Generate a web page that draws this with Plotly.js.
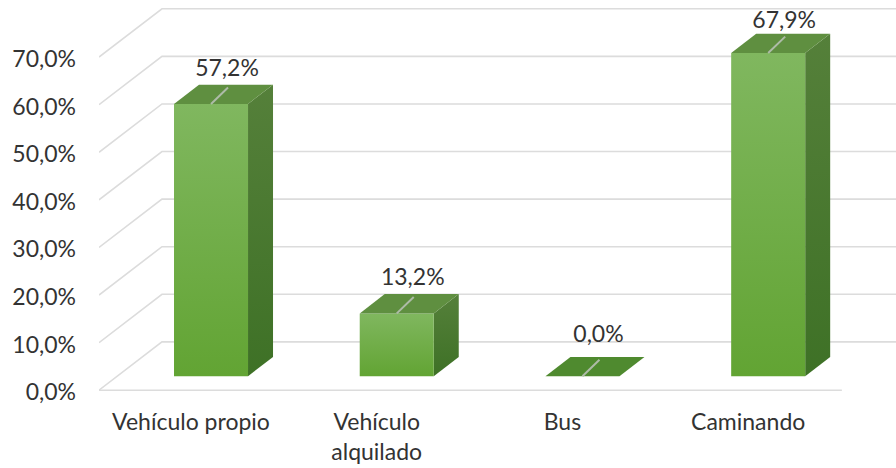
<!DOCTYPE html>
<html><head><meta charset="utf-8">
<script src="https://cdn.plot.ly/plotly-3.0.1.min.js"></script>
<style>html,body{margin:0;padding:0;background:#fff}#c{width:896px;height:468px}</style>
</head><body><div id="c"></div>
<script>
var categories = ["Vehículo propio", "Vehículo<br>alquilado", "Bus", "Caminando"];
var values = [57.2, 13.2, 0.0, 67.9];
var yTicks = [0, 10, 20, 30, 40, 50, 60, 70];
var yTickLabels = ["0,0%", "10,0%", "20,0%", "30,0%", "40,0%", "50,0%", "60,0%", "70,0%"];
var labelDy = [10.1, 10.1, 11.35, 9.5];

// Oblique-projection constants, in axis units
var wallDx = 0.339, wallDy = 10.16;
var floorLen = 4.0, barLeft = -0.0915, barW = 0.3985, depthDx = 0.1346, depthDy = 4.06, baseY = 2.95;
var labelDx = 0.194, tickNudge = 0.4;
var xMin = -0.4954, xMax = 3.796;
var tickFont = {family: "Lato, 'Open Sans', sans-serif", size: 23, color: "#333333"};

function poly(xs, ys, color, grad) {
  var t = {type: "scatter", mode: "lines", x: xs, y: ys, fill: "toself", line: {width: 0}, hoverinfo: "skip", showlegend: false};
  if (grad) t.fillgradient = {type: "vertical", colorscale: [[0, grad[0]], [1, grad[1]]]};
  else t.fillcolor = color;
  return t;
}
var traces = [];
// walls
yTicks.forEach(function (v) {
  traces.push({type: "scatter", mode: "lines", x: [xMin, xMin + wallDx, xMax + 1], y: [v, v + wallDy, v + wallDy],
    line: {color: "#dcdcdc", width: 1.6}, hoverinfo: "skip", showlegend: false});
});
traces.push({type: "scatter", mode: "lines", x: [xMin, xMin + floorLen], y: [0, 0],
  line: {color: "#dcdcdc", width: 1.6}, hoverinfo: "skip", showlegend: false});
// bars
values.forEach(function (v, i) {
  var l = i + barLeft, r = l + barW, b = baseY, t = baseY + v;
  if (v > 0) {
    traces.push(poly([r, r + depthDx, r + depthDx, r, r], [b, b + depthDy, t + depthDy, t, b], null, ["#3e7126", "#55803a"]));
    traces.push(poly([l, r, r, l, l], [b, b, t, t, b], null, ["#62a433", "#80b75f"]));
  }
  traces.push(poly([l, r, r + depthDx, l + depthDx, l], [t, t, t + depthDy, t + depthDy, t], v > 0 ? "#5f8f40" : "#4f8a2f"));
  // leader line
  traces.push({type: "scatter", mode: "lines", x: [l + barW / 2, l + barW / 2 + depthDx * 0.68], y: [t, t + depthDy * 0.85],
    line: {color: "#aebba8", width: 2}, hoverinfo: "skip", showlegend: false});
});
// data labels
traces.push({type: "scatter", mode: "text",
  x: values.map(function (v, i) { return i + labelDx; }),
  y: values.map(function (v, i) { return v + labelDy[i]; }),
  text: values.map(function (v) { return v.toFixed(1).replace(".", ",") + "%"; }),
  textposition: "middle center", textfont: tickFont, hoverinfo: "skip", showlegend: false, cliponaxis: false});

var layout = {
  width: 896, height: 468, paper_bgcolor: "#fff", plot_bgcolor: "#fff", showlegend: false,
  margin: {l: 99, r: 0, t: 0, b: 73.25, pad: 0},
  xaxis: {range: [xMin, xMax], tickmode: "array", tickvals: categories.map(function (c, i) { return i; }), ticktext: categories,
    showgrid: false, zeroline: false, showline: false, ticks: "", ticklabelstandoff: 11, tickfont: tickFont, tickangle: 0},
  yaxis: {range: [-1, 82], tickmode: "array", tickvals: yTicks.map(function (v) { return v - tickNudge; }), ticktext: yTickLabels,
    showgrid: false, zeroline: false, showline: false, ticks: "", ticklabelstandoff: 22, tickfont: tickFont}
};
Plotly.newPlot("c", traces, layout, {displayModeBar: false, staticPlot: true});
</script></body></html>
